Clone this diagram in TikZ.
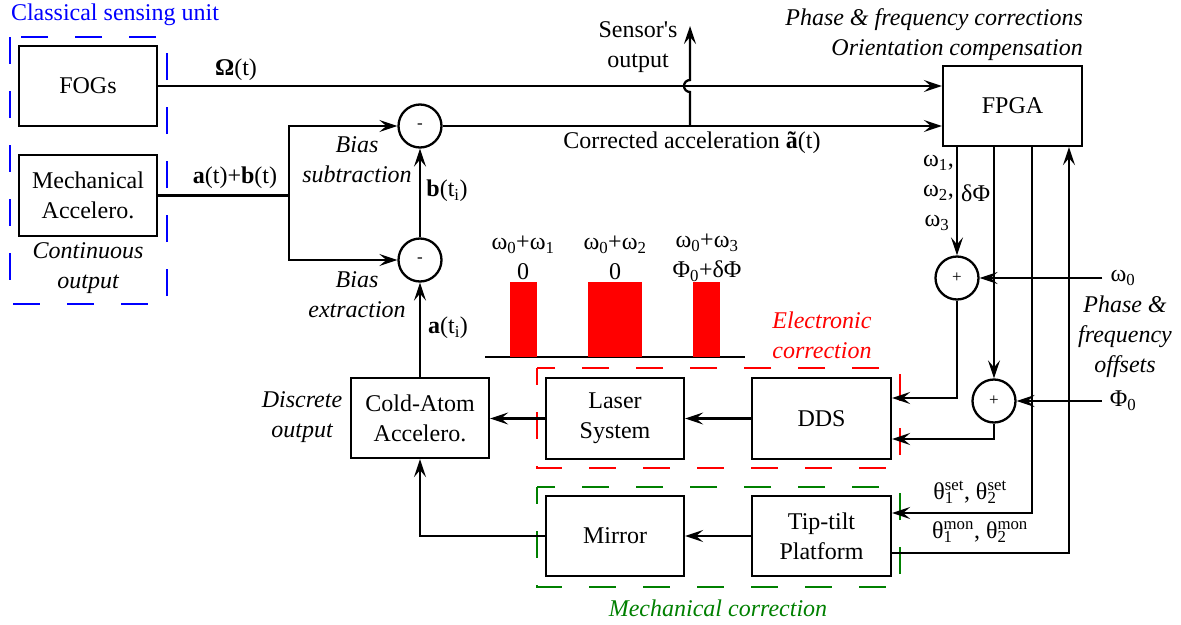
\documentclass[tikz,border=0pt]{standalone}
\usepackage{fontspec}
\setmainfont{Liberation Serif}
\newfontfamily\lserif{Liberation Serif}
\usetikzlibrary{arrows.meta}
\definecolor{myblue}{RGB}{0,0,255}
\definecolor{myred}{RGB}{255,0,0}
\definecolor{mygreen}{RGB}{0,128,0}
\begin{document}
\begin{tikzpicture}[x=1pt,y=-1pt,
  every node/.style={font=\lserif\fontsize{24}{30}\selectfont, inner sep=0pt, align=center},
  box/.style={draw, line width=2.3pt, minimum width=138pt, minimum height=80pt},
  sumc/.style={draw, circle, line width=2.3pt, minimum size=43pt, font=\lserif\fontsize{17}{18}\selectfont},
  wire/.style={line width=2.3pt},
  arr/.style={line width=2.3pt, -{Stealth[length=18pt,width=12pt,inset=7pt]}},
  grp/.style={line width=2.5pt, dash pattern=on 27pt off 27pt},
  lab/.style={font=\lserif\itshape\fontsize{24}{30}\selectfont}
]
\useasboundingbox (0,0) rectangle (1181,624);

% group frames
\draw[grp, myblue, dash phase=0pt] (10,37) rectangle (167,304);
\draw[grp, myred, dash phase=10pt] (537,368) rectangle (900,468);
\draw[grp, mygreen, dash phase=10pt] (537,487) rectangle (900,587);
\node[text=myblue] (title) at (115,15) {Classical sensing unit};
\node[lab, text=myred] (elec) at (822,335) {Electronic\\correction};
\node[lab, text=mygreen] (mech-lab) at (718,608) {Mechanical correction};

% boxes
\node[box] (fogs) at (88,86) {FOGs};
\node[box, minimum height=81pt] (mech) at (88,195.5) {Mechanical\\Accelero.};
\node[box] (cold) at (420,418) {Cold-Atom\\Accelero.};
\node[box, minimum height=81pt] (laser) at (615,418.5) {Laser\\System};
\node[box, minimum width=139pt, minimum height=81pt] (dds) at (821.5,418.5) {DDS};
\node[box] (mirror) at (615,536) {Mirror};
\node[box, minimum width=139pt] (tip) at (821.5,536) {Tip-tilt\\Platform};
\node[box, minimum width=139pt] (fpga) at (1012.5,106) {FPGA};

% summing circles
\node[sumc] (m1) at (420,126) {-};
\node[sumc] (m2) at (420,260) {-};
\node[sumc] (p1) at (957,278) {+};
\node[sumc] (p2) at (994,401) {+};

% left part
\coordinate (j) at (289,195.5);
\draw[arr] (fogs.east) -- (fogs.east -| fpga.west);
\draw[wire] (mech.east) -- (j);
\draw[arr] (j) |- (m1.west);
\draw[arr] (j) |- (m2.west);
\draw[arr] (m2.north) -- (m1.south);
\draw[arr] (cold.north) -- (m2.south);
\draw[arr] (m1.east) -- (m1.east -| fpga.west);
\coordinate (so) at (690,126);
\coordinate (sotop) at (690,26);
\draw[arr] (so) -- ++(0,-34) arc[start angle=270, end angle=90, radius=6pt] -- (sotop);

% bottom chain
\draw[arr] (dds.west) -- (laser.east);
\draw[arr] (laser.west) -- (laser.west -| cold.east);
\draw[arr] (tip.west) -- (mirror.east);
\draw[arr] (mirror.west) -| (cold.south);

% right part
\node (w0) at (1123,278) {ω\textsubscript{0}};
\node (phi0) at (1123,401) {Φ\textsubscript{0}};
\draw[arr] (fpga.south -| p1) -- (p1.north);
\draw[arr] ([xshift=-8pt]w0.west) -- (p1.east);
\draw[arr] (p1.south) |- ([yshift=20.5pt]dds.east);
\draw[arr] (fpga.south -| p2) -- (p2.north);
\draw[arr] ([xshift=-8pt]phi0.west) -- (p2.east);
\draw[arr] (p2.south) |- ([yshift=-20.5pt]dds.east);
\draw[arr] ([xshift=19.5pt]fpga.south) |- ([yshift=23pt]tip.east);
\draw[arr] ([yshift=-17pt]tip.east) -| ([xshift=56.5pt]fpga.south);

% spectrum
\draw[wire] (485,357) -- (745,357);
\fill[myred] (510,282) rectangle (537,357);
\fill[myred] (588,282) rectangle (642,357);
\fill[myred] (693,282) rectangle (720,357);
\node (s1) at (523,258) {ω\textsubscript{0}+ω\textsubscript{1}\\0};
\node (s2) at (615,258) {ω\textsubscript{0}+ω\textsubscript{2}\\0};
\node (s3) at (707,258) {ω\textsubscript{0}+ω\textsubscript{3}\\Φ\textsubscript{0}+δΦ};

% labels
\node (omega) at (236,70) {\textbf{Ω}(t)};
\node (aplusb) at (235,178) {\textbf{a}(t)+\textbf{b}(t)};
\node[lab] (cont) at (88,268) {Continuous\\output};
\node[lab] (bsub) at (357,160) {Bias\\subtraction};
\node (bti) at (447,191) {\textbf{b}(t\textsubscript{i})};
\node[lab] (bext) at (357,295) {Bias\\extraction};
\node (ati) at (448,328) {\textbf{a}(t\textsubscript{i})};
\node[lab] (disc) at (302,417) {Discrete\\output};
\node (corr) at (692,143) {Corrected acceleration \textbf{ã}(t)};
\node (sens) at (638,47.5) {Sensor's\\output};
\node[lab, align=right, anchor=east] (pfc) at (1083,34.5) {Phase \& frequency corrections\\Orientation compensation};
\node[anchor=east] (w1) at (954,163) {ω\textsubscript{1},};
\node[anchor=east] (w2) at (954,193) {ω\textsubscript{2},};
\node[anchor=west] (dphi) at (961,193) {δΦ};
\node (w3) at (937,223) {ω\textsubscript{3}};
\node[lab] (pfo) at (1125,337) {Phase \&\\frequency\\offsets};
\node (tset) at (970,492) {θ\makebox[0pt][l]{\textsubscript{1}}\textsuperscript{set}, θ\makebox[0pt][l]{\textsubscript{2}}\textsuperscript{set}};
\node (tmon) at (980,532) {θ\makebox[0pt][l]{\textsubscript{1}}\textsuperscript{mon}, θ\makebox[0pt][l]{\textsubscript{2}}\textsuperscript{mon}};
\end{tikzpicture}
\end{document}
